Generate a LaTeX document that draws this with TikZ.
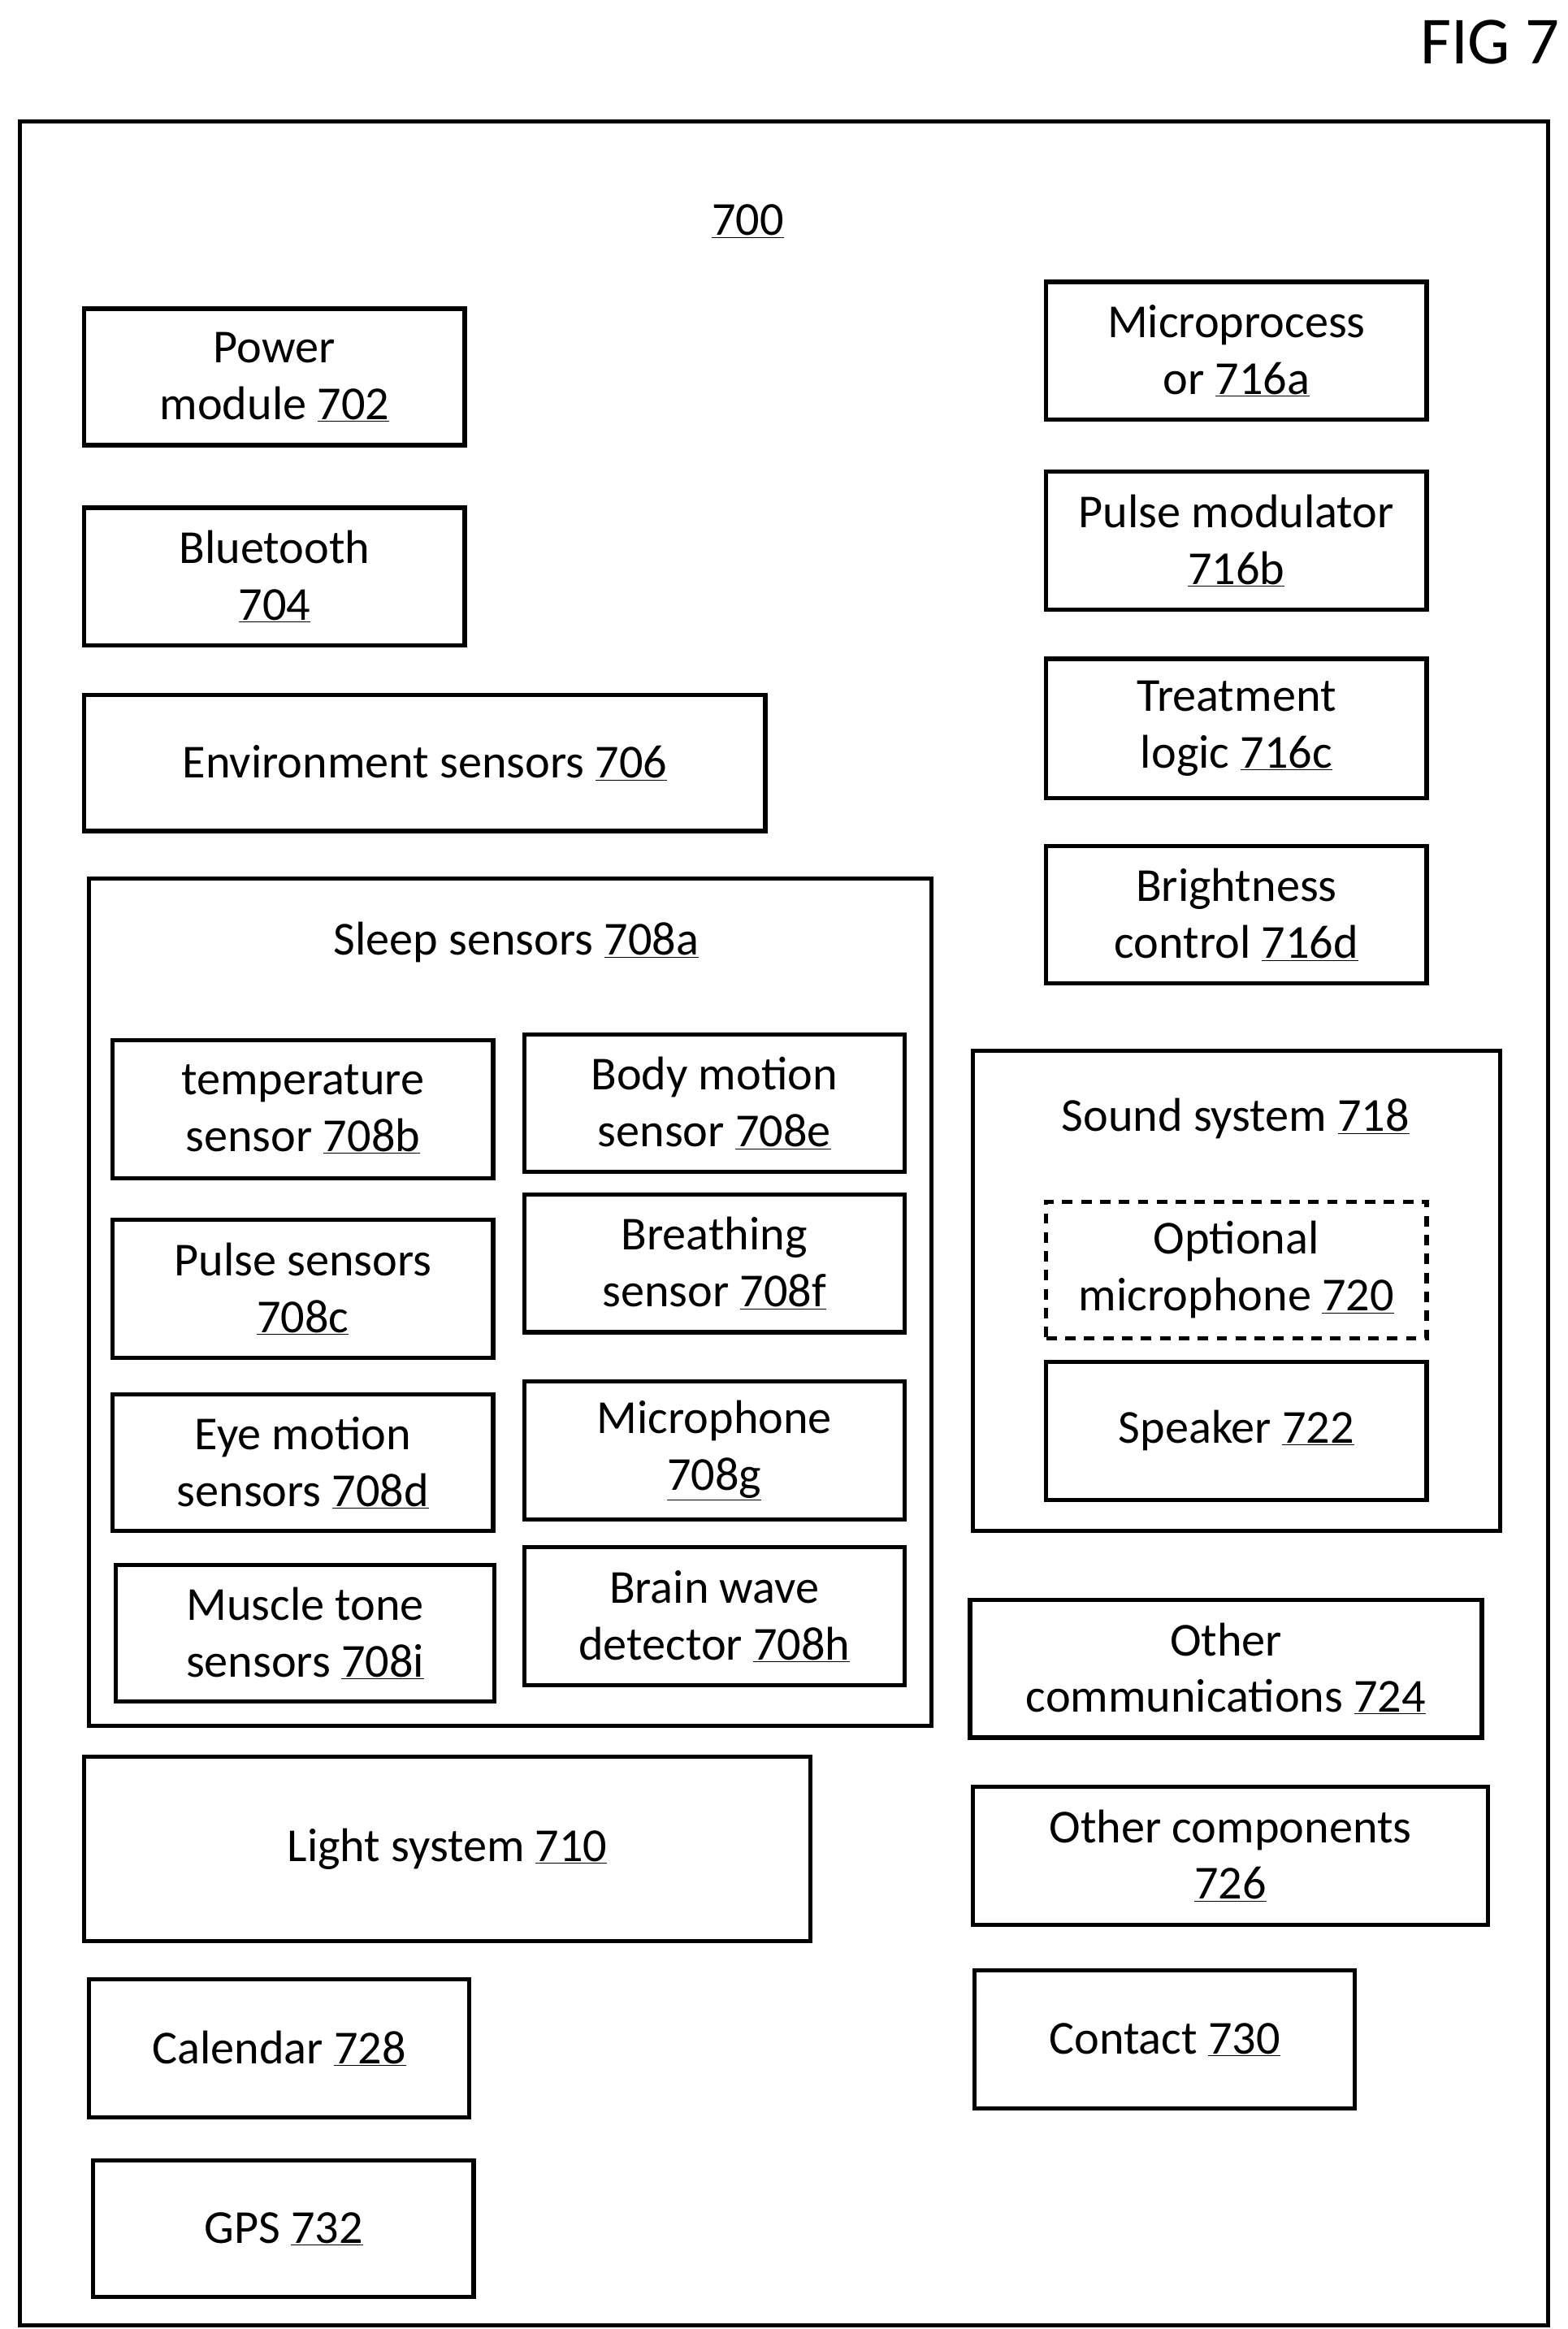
\documentclass[tikz,border=0pt]{standalone}
\usepackage{fontspec}
\setmainfont{Carlito}
\newcommand{\nr}[1]{\underline{#1}}
\tikzset{
  box/.style={rectangle, draw=black, line width=4pt, inner sep=0pt, align=center, font=\fontsize{45}{54}\selectfont},
  label/.style={font=\fontsize{45}{54}\selectfont}
}
% \blk{name}{x1}{y1}{x2}{y2}{options}{text}
\newcommand{\blk}[7]{%
  \pgfmathsetmacro\bw{(#4-#2)*0.05-0.14}\pgfmathsetmacro\bh{(#5-#3)*0.05-0.14}%
  \node (#1) [box, #6, minimum width=\bw cm, minimum height=\bh cm] at ({(#2+#4)/2},{(#3+#5)/2}) {#7};}
\begin{document}
\begin{tikzpicture}[x=0.05cm, y=-0.05cm]
  \useasboundingbox (0,0) rectangle (1048,1557);
  \node (fig) [label, font=\fontsize{64}{70}\selectfont] at (996,28) {FIG 7};
  \blk{device}{12}{80}{1036}{1556}{}{}
  \node (title) [label] at (500,148) {\nr{700}};
  \blk{power}{55}{205}{312}{299}{}{Power\\module \nr{702}}
  \blk{bt}{55}{338}{312}{433}{}{Bluetooth\\\nr{704}}
  \blk{env}{55}{463}{513}{557}{}{Environment sensors \nr{706}}
  \blk{sleep}{58}{586}{624}{1155}{}{}
  \node (sleeptitle) [label] at (345,630) {Sleep sensors \nr{708a}};
  \blk{temp}{74}{694}{331}{789}{}{temperature\\sensor \nr{708b}}
  \blk{body}{349}{690}{606}{785}{}{Body motion\\sensor \nr{708e}}
  \blk{pulse}{74}{814}{331}{909}{}{Pulse sensors\\\nr{708c}}
  \blk{breath}{349}{797}{606}{892}{}{Breathing\\sensor \nr{708f}}
  \blk{eye}{74}{931}{331}{1025}{}{Eye motion\\sensors \nr{708d}}
  \blk{mic}{349}{922}{606}{1017}{}{Microphone\\\nr{708g}}
  \blk{muscle}{76}{1045}{332}{1139}{}{Muscle tone\\sensors \nr{708i}}
  \blk{brain}{349}{1033}{606}{1128}{}{Brain wave\\detector \nr{708h}}
  \blk{light}{55}{1173}{543}{1299}{}{Light system \nr{710}}
  \blk{cal}{58}{1322}{315}{1417}{}{Calendar \nr{728}}
  \blk{gps}{61}{1443}{318}{1537}{}{GPS \nr{732}}
  \blk{cpu}{698}{187}{955}{282}{}{Microprocess\\or \nr{716a}}
  \blk{pwm}{698}{314}{955}{409}{}{Pulse modulator\\\nr{716b}}
  \blk{logic}{698}{439}{955}{535}{}{Treatment\\logic \nr{716c}}
  \blk{bright}{698}{564}{955}{659}{}{Brightness\\control \nr{716d}}
  \blk{sound}{649}{701}{1004}{1025}{}{}
  \node (soundtitle) [label] at (826,748) {Sound system \nr{718}};
  \blk{optmic}{698}{802}{955}{896}{dashed, dash pattern=on 10pt off 8pt}{Optional\\microphone \nr{720}}
  \blk{speaker}{698}{909}{955}{1004}{}{Speaker \nr{722}}
  \blk{comm}{647}{1068}{992}{1163}{}{Other\\communications \nr{724}}
  \blk{other}{649}{1193}{996}{1288}{}{Other components\\\nr{726}}
  \blk{contact}{650}{1316}{907}{1411}{}{Contact \nr{730}}
\end{tikzpicture}
\end{document}
